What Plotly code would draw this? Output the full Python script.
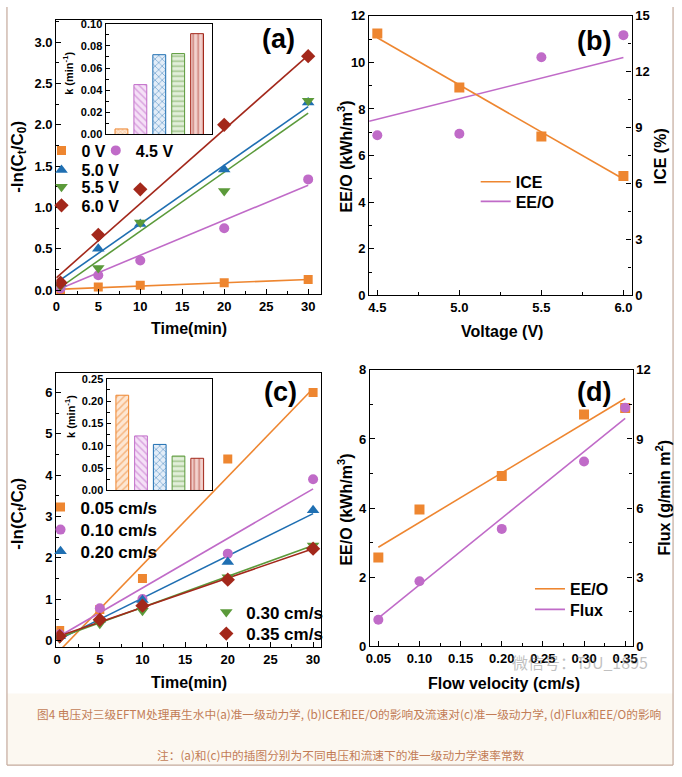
import plotly.graph_objects as go

W, H = 682, 777

# ---------------- data: panel (a) ----------------
time_a = [0.5, 5, 10, 20, 30]
a_0V = [0.01, 0.04, 0.06, 0.09, 0.13]
a_45V = [0.02, 0.18, 0.36, 0.75, 1.34]
a_50V = [0.08, 0.50, 0.80, 1.46, 2.27]
a_55V = [0.05, 0.27, 0.82, 1.20, 2.29]
a_60V = [0.09, 0.67, 1.22, 2.00, 2.83]
fit_time = [0, 30]
fit_a_0V = [0.01, 0.13]
fit_a_45V = [0.0, 1.27]
fit_a_50V = [0.09, 2.22]
fit_a_55V = [0.0, 2.14]
fit_a_60V = [0.15, 2.84]
volt_labels = ["0 V", "4.5 V", "5.0 V", "5.5 V", "6.0 V"]
k_voltage = [0.005, 0.045, 0.072, 0.073, 0.091]

# ---------------- data: panel (b) ----------------
voltage = [4.5, 5.0, 5.5, 6.0]
ice = [14.05, 11.15, 8.52, 6.41]
eeo_b = [6.87, 6.94, 10.22, 11.17]
fit_volt_ice = [4.5, 6.0]
fit_ice = [13.82, 6.24]
fit_volt_eeo = [4.45, 6.0]
fit_eeo_b = [7.47, 10.21]

# ---------------- data: panel (c) ----------------
time_c = [0.3, 5, 10, 20, 30]
c_005 = [0.24, 0.75, 1.50, 4.39, 6.00]
c_010 = [0.15, 0.78, 1.00, 2.10, 3.90]
c_020 = [0.10, 0.50, 0.98, 1.90, 3.15]
c_030 = [0.05, 0.40, 0.72, 1.53, 2.30]
c_035 = [0.10, 0.50, 0.84, 1.47, 2.22]
fit_c_005 = [-0.31, 6.10]
fit_c_010 = [0.07, 3.67]
fit_c_020 = [0.0, 3.07]
fit_c_030 = [0.05, 2.30]
fit_c_035 = [0.09, 2.22]
flow_labels = ["0.05 cm/s", "0.10 cm/s", "0.20 cm/s", "0.30 cm/s", "0.35 cm/s"]
k_flow = [0.213, 0.122, 0.103, 0.077, 0.072]

# ---------------- data: panel (d) ----------------
flow = [0.05, 0.10, 0.20, 0.30, 0.35]
eeo_d = [2.57, 3.96, 4.93, 6.71, 6.90]
flux = [1.16, 2.83, 5.10, 8.02, 10.36]
fit_flow = [0.05, 0.35]
fit_eeo_d = [2.87, 7.17]
fit_flux = [1.23, 9.90]

# ---------------- styling ----------------
ORANGE = "#EE8630"
PURPLE = "#C06BC8"
BLUE = "#1F6FB2"
GREEN = "#5B9A3A"
DRED = "#A3281B"
COLORS = [ORANGE, PURPLE, BLUE, GREEN, DRED]
TINTS = ["#fde6d2", "#f5e0f7", "#e3edf8", "#e2efda", "#f2d2ce"]
SYMBOLS = ["square", "circle", "triangle-up", "triangle-down", "diamond"]
SIZES = [9, 10, 11, 11, 11]
FONT = "Liberation Sans, Arial, sans-serif"


def px(x):
    return x / W


def py(y):
    return 1 - y / H


fig = go.Figure()

# ---------- panel (a) ----------
a_series = [a_0V, a_45V, a_50V, a_55V, a_60V]
a_fits = [fit_a_0V, fit_a_45V, fit_a_50V, fit_a_55V, fit_a_60V]
a_leg = ["legend", "legend2", "legend3", "legend4", "legend5"]
for i in range(5):
    fig.add_trace(go.Scatter(x=fit_time, y=a_fits[i], mode="lines",
                             line=dict(color=COLORS[i], width=1.6),
                             showlegend=False, xaxis="x", yaxis="y"))
for i in range(5):
    fig.add_trace(go.Scatter(x=time_a, y=a_series[i], mode="markers",
                             name=volt_labels[i], legend=a_leg[i],
                             marker=dict(color=COLORS[i], symbol=SYMBOLS[i], size=SIZES[i],
                                         line=dict(width=0)),
                             xaxis="x", yaxis="y"))

patterns_a = ["x", "\\", "x", "-", "|"]
for i in range(5):
    fig.add_trace(go.Bar(x=[i], y=[k_voltage[i]], width=0.68, showlegend=False,
                         marker=dict(color=TINTS[i],
                                     line=dict(color=COLORS[i], width=1),
                                     pattern=dict(shape=patterns_a[i], fgcolor=COLORS[i],
                                                  bgcolor=TINTS[i], size=5 if i else 3,
                                                  solidity=0.3, fillmode="overlay")),
                         xaxis="x2", yaxis="y2"))

# ---------- panel (b) ----------
fig.add_trace(go.Scatter(x=fit_volt_ice, y=fit_ice, mode="lines", name="ICE", legend="legend6",
                         line=dict(color=ORANGE, width=1.6), xaxis="x3", yaxis="y4"))
fig.add_trace(go.Scatter(x=fit_volt_eeo, y=fit_eeo_b, mode="lines", name="EE/O", legend="legend7",
                         line=dict(color=PURPLE, width=1.6), xaxis="x3", yaxis="y3"))
fig.add_trace(go.Scatter(x=voltage, y=ice, mode="markers", showlegend=False,
                         marker=dict(color=ORANGE, symbol="square", size=10),
                         xaxis="x3", yaxis="y4"))
fig.add_trace(go.Scatter(x=voltage, y=eeo_b, mode="markers", showlegend=False,
                         marker=dict(color=PURPLE, symbol="circle", size=10),
                         xaxis="x3", yaxis="y3"))

# ---------- panel (c) ----------
c_series = [c_005, c_010, c_020, c_030, c_035]
c_fits = [fit_c_005, fit_c_010, fit_c_020, fit_c_030, fit_c_035]
c_leg = ["legend8", "legend9", "legend10", "legend11", "legend12"]
for i in range(5):
    fig.add_trace(go.Scatter(x=fit_time, y=c_fits[i], mode="lines",
                             line=dict(color=COLORS[i], width=1.6),
                             showlegend=False, xaxis="x4", yaxis="y5"))
for i in range(5):
    fig.add_trace(go.Scatter(x=time_c, y=c_series[i], mode="markers",
                             name=flow_labels[i], legend=c_leg[i],
                             marker=dict(color=COLORS[i], symbol=SYMBOLS[i], size=SIZES[i],
                                         line=dict(width=0)),
                             xaxis="x4", yaxis="y5"))

patterns_c = ["/", "\\", "x", "-", "|"]
for i in range(5):
    fig.add_trace(go.Bar(x=[i], y=[k_flow[i]], width=0.68, showlegend=False,
                         marker=dict(color=TINTS[i],
                                     line=dict(color=COLORS[i], width=1),
                                     pattern=dict(shape=patterns_c[i], fgcolor=COLORS[i],
                                                  bgcolor=TINTS[i], size=5,
                                                  solidity=0.3, fillmode="overlay")),
                         xaxis="x5", yaxis="y6"))

# ---------- panel (d) ----------
fig.add_trace(go.Scatter(x=fit_flow, y=fit_eeo_d, mode="lines", name="EE/O", legend="legend13",
                         line=dict(color=ORANGE, width=1.6), xaxis="x6", yaxis="y7"))
fig.add_trace(go.Scatter(x=fit_flow, y=fit_flux, mode="lines", name="Flux", legend="legend14",
                         line=dict(color=PURPLE, width=1.6), xaxis="x6", yaxis="y8"))
fig.add_trace(go.Scatter(x=flow, y=eeo_d, mode="markers", showlegend=False,
                         marker=dict(color=ORANGE, symbol="square", size=10),
                         xaxis="x6", yaxis="y7"))
fig.add_trace(go.Scatter(x=flow, y=flux, mode="markers", showlegend=False,
                         marker=dict(color=PURPLE, symbol="circle", size=10),
                         xaxis="x6", yaxis="y8"))


# ---------------- axes ----------------
def axis(dom, rng, dtick, tick0=0, mdtick=None, fmt=None, size=13, **kw):
    d = dict(domain=dom, range=rng, showline=True, linecolor="black", linewidth=1.3,
             ticks="inside", ticklen=5, tickwidth=1.2, tickcolor="black",
             showgrid=False, zeroline=False, mirror=True, dtick=dtick, tick0=tick0,
             tickfont=dict(family=FONT, size=size, color="black", weight="bold"))
    if mdtick:
        d["minor"] = dict(ticks="inside", ticklen=3, tickwidth=1, tickcolor="black",
                          dtick=mdtick, tick0=tick0, showgrid=False)
    if fmt:
        d["tickformat"] = fmt
    d.update(kw)
    return d


layout = dict(
    width=W, height=H, margin=dict(l=0, r=0, t=0, b=0),
    paper_bgcolor="white", plot_bgcolor="rgba(0,0,0,0)",
    font=dict(family=FONT, color="black", weight="bold", size=13),
    barmode="overlay",
    # (a)
    xaxis=axis([px(53), px(321)], [0, 31.5], 5, 0, 2.5, anchor="y"),
    yaxis=axis([py(293), py(13)], [-0.05, 3.27], 0.5, 0, 0.25, ".1f", anchor="x"),
    # (a) inset
    xaxis2=axis([px(103), px(211)], [-0.835, 4.8], 1, anchor="y2", ticks="",
                showticklabels=False),
    yaxis2=axis([py(130), py(17)], [0, 0.1], 0.02, 0, 0.01, ".2f", size=11, anchor="x2",
                ticklen=4),
    # (b)
    xaxis3=axis([px(370), px(636)], [4.45, 6.05], 0.5, 4.5, 0.25, ".1f", anchor="y3"),
    yaxis3=axis([py(294), py(9)], [0, 12], 2, 0, 1, anchor="x3", mirror=False),
    yaxis4=axis([py(294), py(9)], [0, 15], 3, 0, 1.5, anchor="x3", overlaying="y3",
                side="right", mirror=False),
    # (c)
    xaxis4=axis([px(53), px(321)], [-0.1, 30.9], 5, 0, 2.5, anchor="y5"),
    yaxis5=axis([py(653), py(373)], [-0.17, 6.48], 1, 0, 0.5, anchor="x4"),
    # (c) inset
    xaxis5=axis([px(104), px(211)], [-0.835, 4.8], 1, anchor="y6", ticks="",
                showticklabels=False),
    yaxis6=axis([py(493), py(379)], [0, 0.25], 0.05, 0, 0.025, ".2f", size=11, anchor="x5",
                ticklen=4),
    # (d)
    xaxis6=axis([px(371), px(637)], [0.04, 0.359], 0.05, 0.05, 0.025, ".2f", anchor="y7"),
    yaxis7=axis([py(652), py(370)], [0, 8], 2, 0, 1, anchor="x6", mirror=False),
    yaxis8=axis([py(652), py(370)], [0, 12], 3, 0, 1.5, anchor="x6", overlaying="y7",
                side="right", mirror=False),
)

LEG_OFF = 15  # distance from legend top to its row centre


def leg(x, yc, size):
    return dict(x=px(x), y=py(yc - LEG_OFF), xanchor="left", yanchor="top",
                bgcolor="rgba(0,0,0,0)", borderwidth=0, tracegroupgap=0, itemclick=False,
                font=dict(family=FONT, size=size, color="black", weight="bold"))


# panel (a) legend entries
layout["legend"] = leg(38, 144, 16)
layout["legend2"] = leg(93, 144, 16)
layout["legend3"] = leg(38, 164, 16)
layout["legend4"] = leg(38, 181, 16)
layout["legend5"] = leg(38, 200, 16)
# panel (b)
layout["legend6"] = leg(478, 176, 16)
layout["legend7"] = leg(478, 196, 16)
# panel (c)
layout["legend8"] = leg(37, 507, 17)
layout["legend9"] = leg(37, 530, 17)
layout["legend10"] = leg(37, 552, 17)
layout["legend11"] = leg(205, 614, 17)
layout["legend12"] = leg(205, 636, 17)
# panel (d)
layout["legend13"] = leg(533, 591, 16)
layout["legend14"] = leg(533, 612, 16)

ann = []


def text(x, y, s, size, angle=0, color="black", family=FONT, weight="bold"):
    ann.append(dict(x=px(x), y=py(y), xref="paper", yref="paper", text=s, showarrow=False,
                    textangle=angle, xanchor="center", yanchor="middle",
                    font=dict(family=family, size=size, color=color, weight=weight)))


# axis titles
text(187, 328, "Time(min)", 16)
text(187, 689, "Time(min)", 16)
text(505, 331, "Voltage (V)", 16)
text(507, 690, "Flow velocity (cm/s)", 16)
text(15, 153, "-ln(C<sub>t</sub>/C<sub>0</sub>)", 17, -90)
text(15, 517, "-ln(C<sub>t</sub>/C<sub>0</sub>)", 17, -90)
text(346, 152, "EE/O (kWh/m<sup>3</sup>)", 16, -90)
text(346, 512, "EE/O (kWh/m<sup>3</sup>)", 16, -90)
text(665, 152, "ICE (%)", 16, -90)
text(668, 500, "Flux (g/min m<sup>2</sup>)", 16, -90)
text(65, 68, "k (min<sup>-1</sup>)", 11, -90)
text(67, 418, "k (min<sup>-1</sup>)", 11, -90)
# panel labels
text(278, 33, "(a)", 27)
text(598, 35, "(b)", 27)
text(280, 393, "(c)", 27)
text(598, 393, "(d)", 27)
# watermark
text(584, 668, "微信号：TJU_1895", 16, color="rgba(130,130,130,0.5)",
     family="Noto Sans CJK SC", weight="normal")
# caption
text(350, 720, "图4 电压对三级EFTM处理再生水中(a)准一级动力学, (b)ICE和EE/O的影响及流速对(c)准一级动力学, (d)Flux和EE/O的影响",
     11.7, color="#C27C56", family="Noto Sans CJK SC", weight="normal")
text(341, 762, "注：(a)和(c)中的插图分别为不同电压和流速下的准一级动力学速率常数",
     11.7, color="#C27C56", family="Noto Sans CJK SC", weight="normal")
layout["annotations"] = ann

layout["shapes"] = [
    dict(type="rect", xref="paper", yref="paper", x0=px(3), x1=px(678), y0=py(773), y1=py(700),
         fillcolor="#fcf8f1", line=dict(width=0), layer="below"),
    dict(type="line", xref="paper", yref="paper", x0=px(3), x1=px(3), y0=py(773), y1=1,
         line=dict(color="#c4aa9c", width=1.2)),
    dict(type="line", xref="paper", yref="paper", x0=px(678), x1=px(678), y0=py(773), y1=1,
         line=dict(color="#c4aa9c", width=1.2)),
    dict(type="line", xref="paper", yref="paper", x0=px(3), x1=px(678), y0=py(773), y1=py(773),
         line=dict(color="#c4aa9c", width=1.2)),
]

fig.update_layout(**layout)
fig.write_html("out.html")
